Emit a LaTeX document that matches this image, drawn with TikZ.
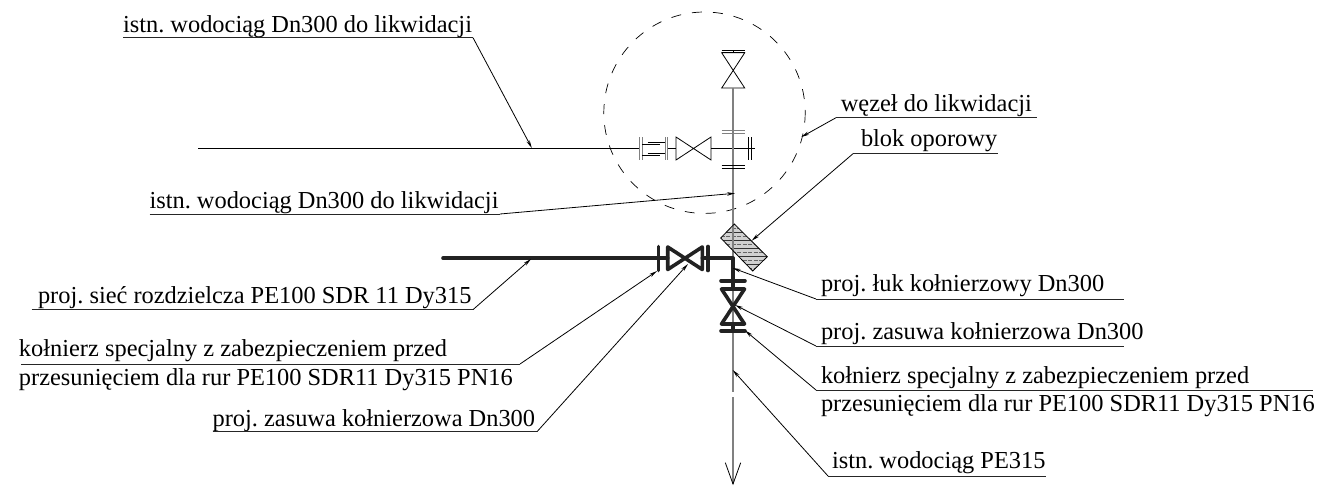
\documentclass[tikz,border=0pt]{standalone}
\usepackage{fontspec}
\setmainfont{Liberation Serif}
\usetikzlibrary{arrows.meta}
\definecolor{pipegray}{HTML}{808080}
\definecolor{thickpipe}{HTML}{222222}
\tikzset{
  lbl/.style={anchor=base west,inner sep=0pt,outer sep=0pt,font=\fontsize{24.4}{27}\selectfont\frenchspacing},
  leader/.style={black,line width=0.8pt,-{Stealth[length=8pt,width=3.5pt]}},
  uline/.style={black!85,line width=0.9pt},
  thin pipe/.style={black,line width=0.8pt},
  gray pipe/.style={pipegray,line width=1.6pt},
  flange/.style={pipegray,line width=0.9pt},
  heavy/.style={thickpipe,line width=3.6pt,line cap=round,line join=round},
}
\begin{document}
\begin{tikzpicture}[x=1pt,y=-1pt]
\useasboundingbox (0,0) rectangle (1322,485);
% dashed circle
\draw[black,line width=0.7pt,dash pattern=on 10pt off 11pt] (704.5,112.7) circle[radius=100.7];
% existing line, horizontal
\coordinate (hs) at (198,148);
\coordinate (hf) at (639.5,148);
\draw[thin pipe] (hs) -- (hf);
% left flange pair
\draw[flange,line width=1pt] (639.5,137)--(639.5,159.5) (642,137)--(642,159.5);
\draw[flange,line width=1pt] (665,137)--(665,159.5) (667.5,137)--(667.5,159.5);
\draw[thin pipe] (647.5,142)--(665,142) (642,144)--(660,144) (647.5,153)--(665,153) (642,155)--(660,155);
\draw[thin pipe] (667.5,148)--(676,148);
% horizontal valve
\draw[thin pipe,line join=miter] (676,137)--(711,160)--(711,137)--(676,160)--cycle;
\draw[thin pipe] (711,148)--(755,148);
\draw[thin pipe] (748,137)--(748,159.5) (751,137)--(751,159.5);
% top vertical valve
\draw[thin pipe] (721.7,50.5)--(744.7,50.5) (721.7,52.8)--(744.7,52.8);
\draw[thin pipe] (733,50.5)--(733,52.8);
\draw[thin pipe] (721.7,52.8)--(744.7,88)--(721.7,88)--(744.7,52.8)--cycle;
% vertical grey line
\coordinate (vtop) at (733,88);
\coordinate (vgap) at (733,391.5);
\coordinate (vgapb) at (733,397);
\coordinate (vbot) at (733,484);
\draw[gray pipe] (vtop) -- (vgap);
\draw[gray pipe] (vgapb) -- (vbot);
% flanges on vertical
\draw[pipegray,line width=1pt] (721.7,130.8)--(744.7,130.8) (721.7,133.2)--(744.7,133.2);
\draw[thin pipe] (721.7,165.5)--(744.7,165.5) (721.7,168.5)--(744.7,168.5);
% arrow end
\draw[thin pipe] (725.3,462.7)--(vbot)--(740.7,462.7);
% thrust block
\begin{scope}
\clip (734.3,224)--(720.7,238)--(752.7,271)--(767.3,256.7)--cycle;
\fill[black!18] (715,220) rectangle (770,275);
\foreach \y in {224,232,...,272} \draw[black!80,line width=0.8pt] (715,\y)--(770,\y);
\foreach \y in {228,236,...,272} \draw[black!60,line width=0.8pt,dash pattern=on 4pt off 1.5pt] (715,\y)--(770,\y);
\draw[gray pipe] (733,220)--(733,275);
\end{scope}
\draw[black,line width=0.8pt] (734.3,224)--(720.7,238)--(752.7,271)--(767.3,256.7)--cycle;
% proposed pipe
\coordinate (ps) at (443,258.2);
\coordinate (pf) at (667.7,258.2);
\draw[heavy] (ps) -- (pf);
\draw[heavy] (658.3,246.5)--(658.3,270.5);
\draw[heavy] (667.7,247)--(702.3,269.5)--(702.3,247)--(667.7,269.5)--cycle;
\draw[heavy] (708,246.5)--(708,270.5);
\draw[heavy] (702.3,258.2)--(733,258.2)--(733,280.7);
\draw[heavy] (721,280.7)--(745,280.7);
\draw[heavy] (733,280.7)--(733,289);
\draw[heavy] (721.5,289)--(744.5,289)--(721.5,324)--(744.5,324)--cycle;
\draw[heavy] (733,324)--(733,330.7);
\draw[heavy] (721,330.7)--(745,330.7);
% labels
\node[lbl] (l1) at (123,32.3) {istn. wodociąg Dn300 do likwidacji};
\node[lbl] (l2) at (840.8,111.7) {węzeł do likwidacji};
\node[lbl] (l3) at (861,146.7) {blok oporowy};
\node[lbl] (l4) at (149.5,208) {istn. wodociąg Dn300 do likwidacji};
\node[lbl] (l5) at (38,303.3) {proj. sieć rozdzielcza PE100 SDR 11 Dy315};
\node[lbl] (l6a) at (19,356.7) {kołnierz specjalny z zabezpieczeniem przed};
\node[lbl] (l6b) at (19,385) {przesunięciem dla rur PE100 SDR11 Dy315 PN16};
\node[lbl] (l7) at (212.6,426.7) {proj. zasuwa kołnierzowa Dn300};
\node[lbl] (l8) at (821,291.7) {proj. łuk kołnierzowy Dn300};
\node[lbl] (l9) at (821,339) {proj. zasuwa kołnierzowa Dn300};
\node[lbl] (l10a) at (821,383.3) {kołnierz specjalny z zabezpieczeniem przed};
\node[lbl] (l10b) at (821,411.7) {przesunięciem dla rur PE100 SDR11 Dy315 PN16};
\node[lbl] (l11) at (832,468) {istn. wodociąg PE315};
% leaders
\coordinate (e1) at (473,37.7);   \coordinate (t1) at (531.8,148);
\coordinate (e2) at (836,117.7);  \coordinate (t2) at (801.4,137);
\coordinate (e3) at (853,153.7);  \coordinate (t3) at (751.7,240.7);
\coordinate (e4) at (500,214);    \coordinate (t4) at (735,193.3);
\coordinate (e5) at (473.7,309);  \coordinate (t5) at (531,259);
\coordinate (e6) at (520,364);    \coordinate (t6) at (657,271);
\coordinate (e7) at (537,431.7);  \coordinate (t7) at (688,264);
\coordinate (e8) at (816,299);    \coordinate (t8) at (732.7,268);
\coordinate (e9) at (816,346);    \coordinate (t9) at (735,305);
\coordinate (e10) at (816,390);   \coordinate (t10) at (745,330.5);
\coordinate (e11) at (828,476);   \coordinate (t11) at (732.7,370);
\draw[uline] (123,37.7)--(e1);
\draw[uline] (e2)--(1037,117.7);
\draw[uline] (e3)--(998,153.7);
\draw[uline] (149.5,214)--(e4);
\draw[uline] (31.6,309)--(e5);
\draw[uline] (21,364)--(e6);
\draw[uline] (212.6,431.7)--(e7);
\draw[uline] (e8)--(1124,299);
\draw[uline] (e9)--(1124,346);
\draw[uline] (e10)--(1313,390);
\draw[uline] (e11)--(1045.5,476);
\foreach \i in {1,...,11} \draw[leader] (e\i)--(t\i);
\end{tikzpicture}
\end{document}
